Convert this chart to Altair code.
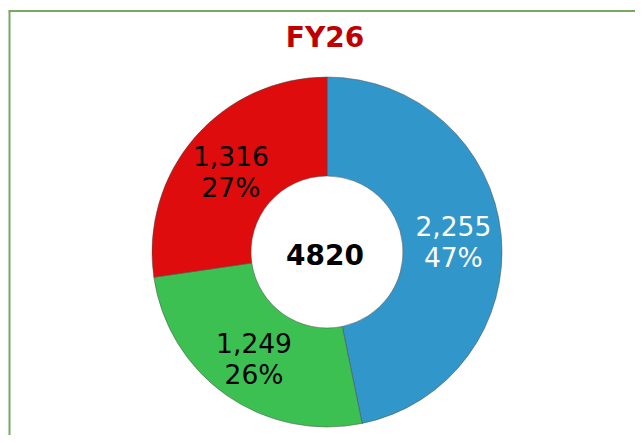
import altair as alt
import pandas as pd

categories = ["A", "B", "C"]
values = [2255, 1249, 1316]
percents = ["47%", "26%", "27%"]
colors = ["#3196c9", "#3cc052", "#de0c0c"]
label_colors = ["white", "black", "black"]
total_label = "4820"
title_text = "FY26"

df = pd.DataFrame({
    "cat": categories,
    "value": values,
    "label": [f"{v:,}\n{p}" for v, p in zip(values, percents)],
    "order": [0, 1, 2],
    "tcolor": label_colors,
})

CX, CY = 319, 244
R_OUT, R_IN = 175, 76

base = alt.Chart(df).encode(
    theta=alt.Theta("value:Q", stack=True),
    order=alt.Order("order:Q"),
)

arcs = base.mark_arc(outerRadius=R_OUT, innerRadius=R_IN, stroke="#4a4a4a", strokeWidth=0.5).encode(
    color=alt.Color("cat:N", scale=alt.Scale(domain=categories, range=colors), legend=None),
    x=alt.value(CX), y=alt.value(CY),
)

labels = base.mark_text(radius=127, fontSize=26.5, font="DejaVu Sans", lineBreak="\n",
                        lineHeight=31, align="center", baseline="middle", dy=-11).encode(
    text="label:N",
    color=alt.Color("tcolor:N", scale=None),
    x=alt.value(CX), y=alt.value(CY),
)

center = alt.Chart(pd.DataFrame({"t": [total_label]})).mark_text(
    fontSize=28, font="DejaVu Sans", fontWeight="bold", color="black",
    align="center", baseline="middle", dy=5, dx=-2).encode(
    text="t:N", x=alt.value(CX), y=alt.value(CY),
)

title = alt.Chart(pd.DataFrame({"t": [title_text]})).mark_text(
    fontSize=28, font="DejaVu Sans", fontWeight="bold", color="#c00000",
    align="center", baseline="middle").encode(
    text="t:N", x=alt.value(317), y=alt.value(31),
)

border_left = alt.Chart(pd.DataFrame({"k": [0]})).mark_rule(color="#78a862", strokeWidth=2).encode(
    x=alt.value(1.5), y=alt.value(3), y2=alt.value(440))
border_top = alt.Chart(pd.DataFrame({"k": [0]})).mark_rule(color="#78a862", strokeWidth=2).encode(
    x=alt.value(0.5), x2=alt.value(640), y=alt.value(3))

chart = alt.layer(border_left, border_top, arcs, labels, center, title).properties(
    width=627, height=427,
    padding=0,
    autosize=alt.AutoSizeParams(type="none"),
).configure_view(stroke=None)

chart.save("out.html", embed_options={"renderer": "svg", "actions": False})
